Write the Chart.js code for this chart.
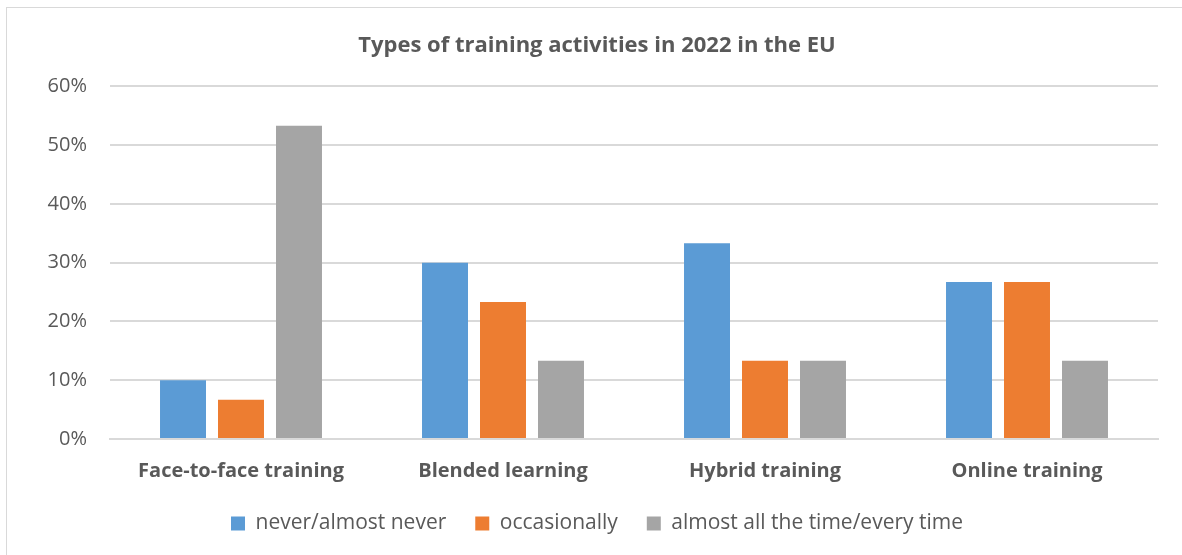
<!DOCTYPE html>
<html>
<head>
<meta charset="utf-8">
<script src="https://cdn.jsdelivr.net/npm/chart.js@4.4.1/dist/chart.umd.min.js"></script>
<style>
  html, body { margin: 0; padding: 0; background: #fff; }
  #wrap { position: relative; width: 1182px; height: 555px; overflow: hidden; }
  #frame { position: absolute; left: 6px; top: 7px; width: 1200px; height: 600px;
           border-left: 1.5px solid #d9d9d9; border-top: 1.5px solid #d9d9d9; pointer-events: none; }
  canvas { position: absolute; left: 0; top: 0; }
</style>
</head>
<body>
<div id="wrap">
  <canvas id="c" width="1182" height="555"></canvas>
  <div id="frame"></div>
</div>
<script>
// Share of respondents per training format and frequency (%)
const categories = ['Face-to-face training', 'Blended learning', 'Hybrid training', 'Online training'];
const seriesNames = ['never/almost never', 'occasionally', 'almost all the time/every time'];
const neverValues = [10.0, 30.0, 33.3, 26.7];
const occasionallyValues = [6.7, 23.3, 13.3, 26.7];
const alwaysValues = [53.3, 13.3, 13.3, 13.3];
const yTicks = [0, 10, 20, 30, 40, 50, 60];

const colors = ['#5B9BD5', '#ED7D31', '#A5A5A5'];
const textColor = '#595959';
const gridColor = '#d9d9d9';
const fontFamily = '"Open Sans", sans-serif';
const legendBoxHeight = 60;
const xAxisHeight = 45;

const seriesValues = [neverValues, occasionallyValues, alwaysValues];

const chart = new Chart(document.getElementById('c'), {
  type: 'bar',
  data: {
    labels: categories,
    datasets: seriesNames.map((name, i) => ({
      label: name,
      data: seriesValues[i],
      backgroundColor: colors[i],
      borderWidth: 0,
      barPercentage: 0.793,
      categoryPercentage: 0.664
    }))
  },
  options: {
    responsive: false,
    animation: false,
    devicePixelRatio: 1,
    layout: { padding: { left: 12, right: 0, top: 0, bottom: 11 } },
    plugins: {
      title: {
        display: true,
        text: 'Types of training activities in 2022 in the EU',
        color: textColor,
        font: { family: fontFamily, size: 22, weight: 'bold' },
        padding: { top: 33, bottom: 27 }
      },
      legend: {
        position: 'bottom',
        labels: {
          color: textColor,
          font: { family: fontFamily, size: 21 },
          boxWidth: 14,
          boxHeight: 14,
          padding: 29
        }
      },
      tooltip: { enabled: false }
    },
    scales: {
      x: {
        grid: { display: false, drawTicks: false },
        border: { color: gridColor, width: 2 },
        ticks: {
          color: textColor,
          padding: 20,
          font: { family: fontFamily, size: 20, weight: 'bold' }
        },
        afterFit: s => { s.paddingRight = 24; s.height = xAxisHeight; }
      },
      y: {
        min: 0,
        max: 60,
        afterBuildTicks: s => { s.ticks = yTicks.map(v => ({ value: v })); },
        grid: { color: gridColor, lineWidth: 2, drawTicks: false },
        border: { display: false },
        ticks: {
          color: textColor,
          padding: 23,
          font: { family: fontFamily, size: 20 },
          callback: v => v + '%'
        },
        afterFit: s => { s.width = 98; }
      }
    }
  }
});

// Keep the legend band compact while leaving wide gaps between its items
const baseFit = chart.legend.fit;
chart.legend.fit = function () {
  baseFit.call(this);
  this.height = legendBoxHeight;
};
chart.update('none');
</script>
</body>
</html>
